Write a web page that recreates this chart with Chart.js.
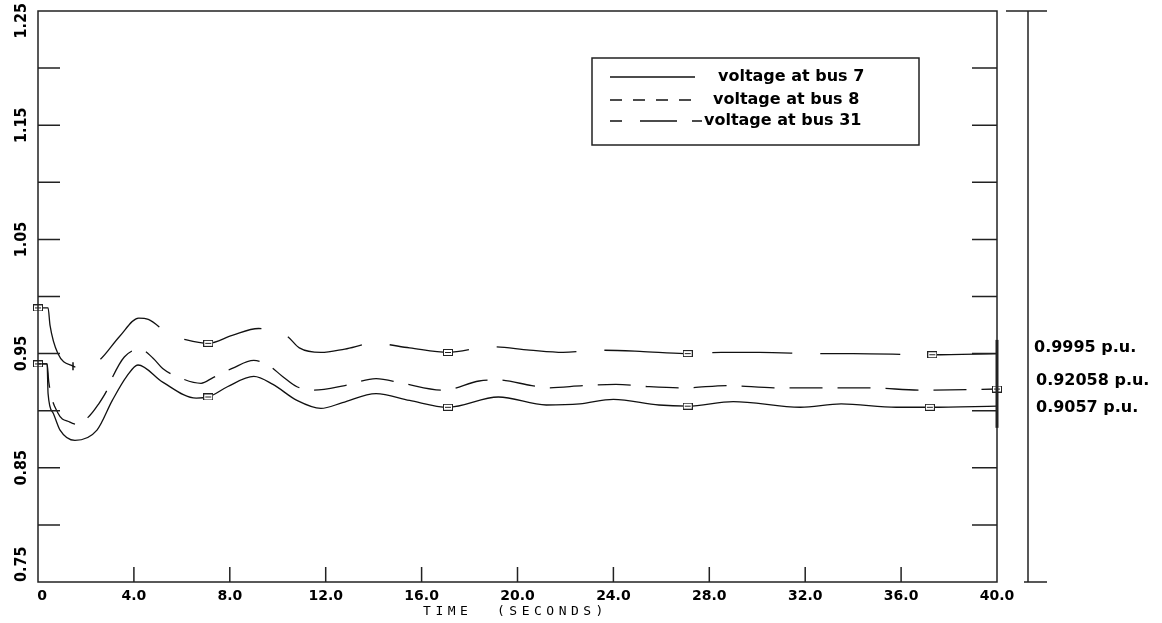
<!DOCTYPE html>
<html>
<head>
<meta charset="utf-8">
<script src="https://cdn.jsdelivr.net/npm/chart.js@4.4.1/dist/chart.umd.min.js"></script>
<style>
  html, body { margin: 0; padding: 0; background: #fff; }
</style>
</head>
<body>
<canvas id="chart" width="1162" height="623"></canvas>
<script>
// time (s) and voltage (p.u.)
const tBus7 = [0, 0.38, 0.42, 0.63, 0.92, 1.54, 2.46, 3.1, 3.7, 4.17, 5.2, 6.6, 7.1, 7.9, 9.0, 9.8, 10.8, 11.8, 12.7, 14.1, 15.5, 17.1, 19.2, 21.2, 22.6, 24.0, 25.9, 27.1, 29.0, 31.8, 33.5, 35.8, 37.2, 40];
const vBus7 = [0.941, 0.941, 0.915, 0.898, 0.883, 0.874, 0.883, 0.909, 0.930, 0.940, 0.925, 0.911, 0.912, 0.921, 0.930, 0.923, 0.909, 0.902, 0.907, 0.915, 0.909, 0.903, 0.912, 0.905, 0.906, 0.910, 0.905, 0.904, 0.908, 0.903, 0.906, 0.903, 0.903, 0.904];

const tBus8 = [0, 0.38, 0.45, 0.83, 1.33, 1.65, 2.17, 2.5, 2.88, 3.1, 3.6, 4.25, 4.8, 5.2, 5.9, 6.8, 7.3, 8.1, 9.0, 9.6, 10.2, 10.8, 11.5, 12.8, 14.1, 15.2, 16.9, 18.4, 19.1, 20.6, 21.2, 22.8, 24.1, 25.5, 26.9, 28.8, 30.7, 32.5, 34.6, 36.9, 40];
const vBus8 = [0.941, 0.941, 0.925, 0.898, 0.890, 0.888, 0.896, 0.905, 0.918, 0.929, 0.947, 0.954, 0.946, 0.937, 0.929, 0.924, 0.929, 0.937, 0.944, 0.940, 0.930, 0.921, 0.918, 0.922, 0.928, 0.924, 0.918, 0.926, 0.927, 0.922, 0.920, 0.922, 0.923, 0.921, 0.920, 0.922, 0.920, 0.920, 0.920, 0.918, 0.919];

const tBus31 = [0, 0.42, 0.5, 0.83, 1.46, 1.9, 2.6, 3.4, 4.2, 4.6, 5.4, 6.2, 7.1, 8.1, 9.2, 10.4, 10.9, 11.8, 12.8, 14.0, 15.5, 17.1, 18.9, 20.5, 21.9, 23.3, 25.1, 27.1, 28.5, 30.1, 32.7, 34.0, 37.3, 40];
const vBus31 = [0.990, 0.990, 0.975, 0.950, 0.939, 0.937, 0.945, 0.965, 0.981, 0.980, 0.968, 0.962, 0.959, 0.966, 0.972, 0.965, 0.955, 0.951, 0.954, 0.959, 0.955, 0.951, 0.956, 0.953, 0.951, 0.953, 0.952, 0.950, 0.951, 0.951, 0.950, 0.950, 0.949, 0.950];

// where the plotter put its little marks
const marksBus7 = [7.1, 17.1, 27.1, 37.2];
const marksBus8 = [0, 40];
const marksBus31 = [0, 7.1, 17.1, 27.1, 37.3];
const teesBus31 = [1.46];

const seriesLabels = ['voltage at bus 7', 'voltage at bus 8', 'voltage at bus 31'];
const endLabels = ['0.9995 p.u.', '0.92058 p.u.', '0.9057 p.u.'];

const xTicks = [0, 4, 8, 12, 16, 20, 24, 28, 32, 36, 40];
const xTickLabels = ['0', '4.0', '8.0', '12.0', '16.0', '20.0', '24.0', '28.0', '32.0', '36.0', '40.0'];
const yTicks = [0.75, 0.80, 0.85, 0.90, 0.95, 1.00, 1.05, 1.10, 1.15, 1.20, 1.25];
const yTickLabels = ['0.75', '', '0.85', '', '0.95', '', '1.05', '', '1.15', '', '1.25'];
const xTitle = 'TIME  (SECONDS)';

// small hollow box used as point marker
const boxMark = document.createElement('canvas');
boxMark.width = 10; boxMark.height = 7;
(function () {
  const g = boxMark.getContext('2d');
  g.fillStyle = '#fff'; g.fillRect(0, 0, 10, 7);
  g.strokeStyle = '#222'; g.lineWidth = 1;
  g.strokeRect(0.5, 0.5, 9, 6);
  g.beginPath(); g.moveTo(2, 3.5); g.lineTo(8, 3.5); g.stroke();
})();

function series(label, ts, vs, dash, marks, tees) {
  return {
    label: label,
    data: ts.map((t, i) => ({ x: t, y: vs[i] })),
    borderColor: '#111',
    borderWidth: 1.3,
    borderDash: dash,
    fill: false,
    cubicInterpolationMode: 'monotone',
    clip: 8,
    pointRadius: c => (c.raw && (marks.includes(c.raw.x) || tees.includes(c.raw.x))) ? 4 : 0,
    pointStyle: c => (c.raw && tees.includes(c.raw.x)) ? 'line' : boxMark,
    pointRotation: c => (c.raw && tees.includes(c.raw.x)) ? 90 : 0,
    pointBorderColor: '#111',
    pointBorderWidth: 1.5,
    pointHoverRadius: 0
  };
}

const framePlugin = {
  id: 'frame',
  afterDraw(chart) {
    const ctx = chart.ctx;
    const xs = chart.scales.x, ys = chart.scales.y;
    const { left, right, top, bottom } = chart.chartArea;
    ctx.save();
    ctx.strokeStyle = '#222';
    ctx.lineWidth = 1.5;
    ctx.strokeRect(left, top, right - left, bottom - top);

    // inward ticks
    ctx.beginPath();
    yTicks.forEach((v, i) => {
      if (i === 0 || i === yTicks.length - 1) return;
      const py = ys.getPixelForValue(v);
      ctx.moveTo(left, py); ctx.lineTo(left + 22, py);
      ctx.moveTo(right - 25, py); ctx.lineTo(right, py);
    });
    xTicks.forEach((v, i) => {
      if (i === 0 || i === xTicks.length - 1) return;
      const px = xs.getPixelForValue(v);
      ctx.moveTo(px, bottom); ctx.lineTo(px, bottom - 15);
    });
    ctx.stroke();

    // second bar on the right
    ctx.beginPath();
    ctx.moveTo(right + 31, top); ctx.lineTo(right + 31, bottom);
    ctx.moveTo(right + 9, top); ctx.lineTo(right + 50, top);
    ctx.moveTo(right + 27, bottom); ctx.lineTo(right + 50, bottom);
    ctx.stroke();

    // end-of-run bar
    ctx.lineWidth = 3;
    ctx.beginPath();
    ctx.moveTo(right, ys.getPixelForValue(0.962));
    ctx.lineTo(right, ys.getPixelForValue(0.885));
    ctx.stroke();

    ctx.fillStyle = '#000';
    // x tick labels
    ctx.font = 'bold 14px "DejaVu Sans", sans-serif';
    ctx.textAlign = 'center';
    ctx.textBaseline = 'middle';
    xTicks.forEach((v, i) => {
      ctx.fillText(xTickLabels[i], xs.getPixelForValue(v) + (i === 0 ? 4 : 0), bottom + 14);
    });

    // y tick labels, rotated
    ctx.font = 'bold 16px "Liberation Sans Narrow", "DejaVu Sans Condensed", sans-serif';
    yTicks.forEach((v, i) => {
      const txt = yTickLabels[i];
      if (!txt) return;
      const w = ctx.measureText(txt).width;
      let py = ys.getPixelForValue(v);
      py = Math.max(py, 3 + w / 2);
      py = Math.min(py, bottom - w / 2);
      ctx.save();
      ctx.translate(22, py);
      ctx.rotate(-Math.PI / 2);
      ctx.fillText(txt, 0, 0);
      ctx.restore();
    });

    // axis title
    ctx.font = '13px "DejaVu Sans Mono", monospace';
    ctx.letterSpacing = '4.5px';
    ctx.fillText(xTitle, (left + right) / 2 - 2, bottom + 30);
    ctx.letterSpacing = '0px';

    // final values
    ctx.font = 'bold 16px "DejaVu Sans", sans-serif';
    ctx.textAlign = 'left';
    const lastBus31 = ys.getPixelForValue(vBus31[vBus31.length - 1]);
    const lastBus8 = ys.getPixelForValue(vBus8[vBus8.length - 1]);
    const lastBus7 = ys.getPixelForValue(vBus7[vBus7.length - 1]);
    ctx.fillText(endLabels[0], right + 37, lastBus31 - 6);
    ctx.fillText(endLabels[1], right + 39, lastBus8 - 8);
    ctx.fillText(endLabels[2], right + 39, lastBus7 + 2);

    // legend box
    ctx.lineWidth = 1.5;
    ctx.strokeStyle = '#222';
    ctx.strokeRect(592, 58, 327, 87);
    const ds = chart.data.datasets;
    const rows = [77, 100, 121];
    const dashes = [[], [12, 11], [12, 18, 37, 15, 10, 100]];
    const textX = [718, 713, 704];
    ctx.lineWidth = 1.3;
    ctx.strokeStyle = '#111';
    rows.forEach((ry, i) => {
      ctx.setLineDash(dashes[i]);
      ctx.beginPath();
      ctx.moveTo(610, ry); ctx.lineTo(i === 2 ? 702 : 695, ry);
      ctx.stroke();
      ctx.setLineDash([]);
      ctx.fillText(ds[i].label, textX[i], ry);
    });
    ctx.restore();
  }
};

new Chart(document.getElementById('chart'), {
  type: 'line',
  data: {
    datasets: [
      series(seriesLabels[0], tBus7, vBus7, [], marksBus7, []),
      series(seriesLabels[1], tBus8, vBus8, [33, 15], marksBus8, []),
      series(seriesLabels[2], tBus31, vBus31, [80, 28], marksBus31, teesBus31)
    ]
  },
  options: {
    responsive: false,
    devicePixelRatio: 1,
    animation: false,
    events: [],
    layout: { padding: { left: 38, top: 11, right: 165, bottom: 41 } },
    plugins: { legend: { display: false }, tooltip: { enabled: false } },
    scales: {
      x: { type: 'linear', min: 0, max: 40, display: false },
      y: { type: 'linear', min: 0.75, max: 1.25, display: false }
    }
  },
  plugins: [framePlugin]
});
</script>
</body>
</html>
